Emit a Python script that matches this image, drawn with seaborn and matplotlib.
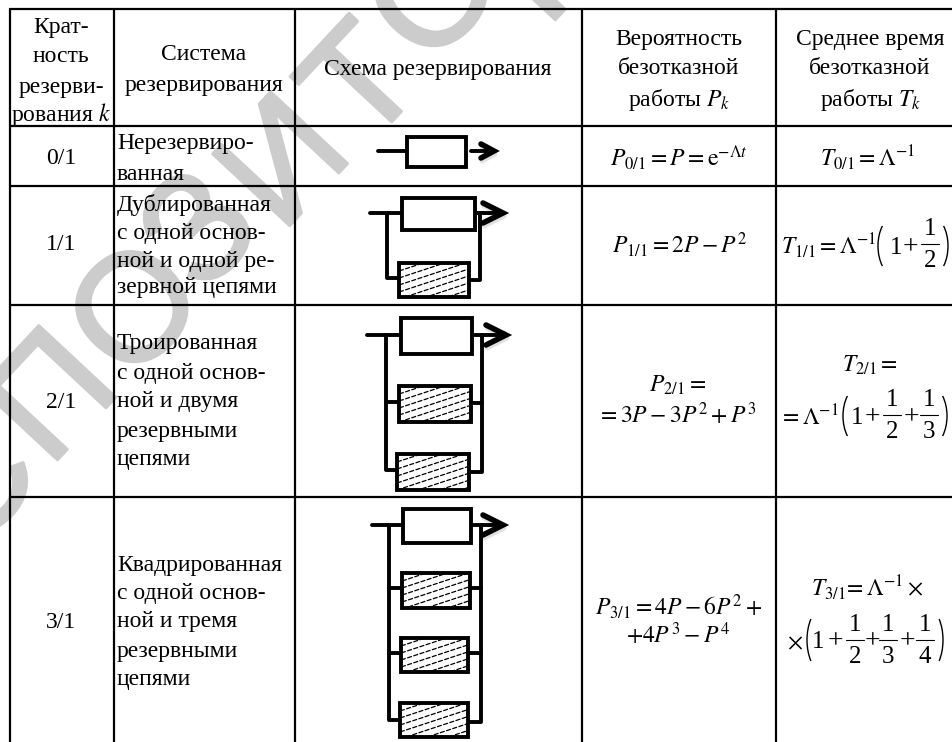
import matplotlib
matplotlib.use('Agg')
import matplotlib.patheffects as pe
import matplotlib.pyplot as plt
import pandas as pd
import seaborn as sns
from matplotlib.patches import Arc, Rectangle

sns.set_theme(style='white')
plt.rcParams['font.family'] = ['Liberation Serif', 'DejaVu Serif']
plt.rcParams['mathtext.fontset'] = 'stix'

# Table content
headers = [
    (61, ['Крат-', 'ность', 'резерви-', r'рования $k$'], [27, 57, 87, 115]),
    (204, ['Система', 'резервирования'], [55, 85]),
    (438, ['Схема резервирования'], [69]),
    (679, ['Вероятность', 'безотказной', r'работы $P_k$'], [40, 69, 100]),
    (870, ['Среднее время', 'безотказной', r'работы $T_k$'], [40, 69, 100]),
]
multiplicity = ['0/1', '1/1', '2/1', '3/1']
multiplicity_y = [159, 245, 402, 622]
system_lines = [
    ['Нерезервиро-', 'ванная'],
    ['Дублированная', 'с одной основ-', 'ной и одной ре-', 'зервной цепями'],
    ['Троированная', 'с одной основ-', 'ной и двумя', 'резервными', 'цепями'],
    ['Квадрированная', 'с одной основ-', 'ной и тремя', 'резервными', 'цепями'],
]
system_y = [
    [144, 174],
    [205, 234, 262, 288],
    [344, 373, 402, 431, 459],
    [565, 593, 622, 651, 680],
]
formulas_p = [
    (679, 158, r'$P_{0/1}=P=\mathrm{e}^{-\Lambda t}$'),
    (680, 245, r'$P_{1/1}=2P-P^2$'),
    (678, 385, r'$P_{2/1}=$'),
    (677, 415, r'$=3P-3P^2+P^3$'),
    (679, 607, r'$P_{3/1}=4P-6P^2+$'),
    (678, 635, r'$+4P^3-P^4$'),
]
formulas_t = [
    (868, 158, r'$T_{0/1}=\Lambda^{-1}$'),
    (829, 246, r'$T_{1/1}=\Lambda^{-1}$'),
    (870, 365, r'$T_{2/1}=$'),
    (809, 418, r'$=\Lambda^{-1}$'),
    (867, 588, r'$T_{3/1}\!=\Lambda^{-1}\times$'),
    (795, 644, r'$\times$'),
]

# Bracketed sums in the T column: left bracket, right bracket, centre line, half height
bracket_left = [878, 843, 807]
bracket_right = [948, 947, 943]
bracket_y = [246, 416, 640]
bracket_half = [29, 29, 32]
# Terms inside the brackets
plain_terms = [(896, 248, '1'), (910, 248, '+'),
               (857, 418, '1'), (872, 418, '+'), (911, 418, '+'),
               (818, 642, '1'), (835, 642, '+'), (872, 642, '+'), (907, 642, '+')]
fraction_x = [930, 892, 929, 855, 888, 925]
fraction_y = [244, 415, 415, 640, 640, 640]
fraction_den = ['2', '2', '3', '2', '3', '4']

# Grid of the table
grid_x = [10, 114, 295, 582, 776]
grid_y = [9, 126, 186, 305, 497]

# Schemes: main block, reserve blocks, wires
main_blocks = [(407, 137, 59, 30), (402, 198, 73, 32), (401, 318, 71, 36), (403, 509, 68, 34)]
reserve_blocks = [(399, 263, 70, 34), (399, 386, 72, 36), (397, 454, 72, 36),
                  (402, 573, 68, 35), (401, 638, 67, 34), (400, 703, 68, 34)]
wires = [
    [(378, 151), (407, 151)],
    [(370, 213), (402, 213)], [(387, 213), (387, 278), (399, 278)], [(480, 213), (480, 280), (469, 280)],
    [(367, 335), (401, 335)], [(386, 335), (386, 470), (397, 470)], [(482, 335), (482, 472), (469, 472)],
    [(386, 402), (399, 402)], [(482, 403), (471, 403)],
    [(372, 525), (403, 525)], [(389, 525), (389, 720), (400, 720)], [(481, 525), (481, 722), (468, 722)],
    [(389, 588), (402, 588)], [(481, 588), (470, 588)],
    [(389, 653), (401, 653)], [(481, 653), (468, 653)],
    [(471, 525), (500, 525)], [(472, 335), (503, 335)], [(475, 213), (500, 213)], [(471, 151), (492, 151)],
]
arrow_tip_x = [494, 503, 506, 503]
arrow_y = [151, 213, 335, 525]
arrow_len = [13, 20, 20, 20]
arrow_half = [7, 10, 10, 10]

# Watermark letters, centre of each
watermark = ['С', 'П', 'О', 'З', 'И', 'Т', 'О', 'Р']
watermark_x = [-20, 58, 142, 206, 290, 368, 441, 553]
watermark_y = [490, 402, 316, 236, 168, 90, 0, -35]


def polylines(paths):
    rows = []
    for i, path in enumerate(paths):
        for x, y in path:
            rows.append({'x': x, 'y': y, 'path': i})
    return pd.DataFrame(rows)


def draw_paths(ax, paths, **kwargs):
    sns.lineplot(data=polylines(paths), x='x', y='y', units='path', estimator=None, sort=False,
                 ax=ax, legend=False, **kwargs)


fig = plt.figure(figsize=(9.52, 7.42), dpi=100)
ax = fig.add_axes([0, 0, 1, 1])
ax.set_xlim(0, 952)
ax.set_ylim(742, 0)

for letter, x, y in zip(watermark, watermark_x, watermark_y):
    ax.text(x, y, letter, family='Liberation Sans', fontsize=110, color='#cccccc', rotation=47,
            rotation_mode='anchor', ha='center', va='center', zorder=0,
            path_effects=[pe.withStroke(linewidth=2.2, foreground='#cccccc')])

# table lines
grid_paths = [[(x, grid_y[0]), (x, 742)] for x in grid_x] + [[(grid_x[0], y), (952, y)] for y in grid_y]
draw_paths(ax, grid_paths, color='black', linewidth=1.6, zorder=2)

# arrow heads, with the soft shadow they have in the scan
heads = [[(t - n, y - h), (t, y), (t - n, y + h)]
         for t, y, n, h in zip(arrow_tip_x, arrow_y, arrow_len, arrow_half)]
shadow = [[(a + 1, b + 3) for a, b in head] for head in heads]
draw_paths(ax, shadow, color='#aaaaaa', linewidth=3.6, alpha=0.35, zorder=3)
draw_paths(ax, wires, color='black', linewidth=2.8, zorder=3)
draw_paths(ax, heads, color='black', linewidth=4, solid_joinstyle='miter', zorder=5)

for x, y, w, h in main_blocks:
    ax.add_patch(Rectangle((x, y), w, h, fc='white', ec='black', lw=2.8, zorder=4))
for x, y, w, h in reserve_blocks:
    ax.add_patch(Rectangle((x, y), w, h, fc='white', ec='none', zorder=4))
    clip = Rectangle((x, y), w, h, transform=ax.transData)
    # broken slanted hatching
    for k in range(8):
        y0 = y + 8 + 7 * k
        line, = ax.plot([x, x + w], [y0, y0 - w * 0.33], color='black', lw=0.9, dashes=(4, 1.2), zorder=4.5)
        line.set_clip_path(clip)
    ax.add_patch(Rectangle((x, y), w, h, fc='none', ec='black', lw=2.8, zorder=4.6))

# text
fs = 17
for x, lines, ys in headers:
    for line, y in zip(lines, ys):
        ax.text(x, y, line, ha='center', va='center', fontsize=fs, color='black', zorder=6)
for label, y in zip(multiplicity, multiplicity_y):
    ax.text(61, y, label, ha='center', va='center', fontsize=fs, color='black', zorder=6)
for lines, ys in zip(system_lines, system_y):
    for line, y in zip(lines, ys):
        ax.text(117, y, line, ha='left', va='center', fontsize=fs, color='black', zorder=6)
for x, y, f in formulas_p + formulas_t:
    ax.text(x, y, f, ha='center', va='center', fontsize=fs, color='black', zorder=6)

# brackets and fractions of the T column
for xl, xr, y, half in zip(bracket_left, bracket_right, bracket_y, bracket_half):
    ax.add_patch(Arc((xl + 16, y), 32, half * 2, theta1=120, theta2=240, color='black', lw=1.0, zorder=6))
    ax.add_patch(Arc((xr - 16, y), 32, half * 2, theta1=-60, theta2=60, color='black', lw=1.0, zorder=6))
for x, y, s in plain_terms:
    ax.text(x, y, s, ha='center', va='center', fontsize=20 if s == '+' else 18, color='black', zorder=6)
for x, y, den in zip(fraction_x, fraction_y, fraction_den):
    ax.plot([x - 9, x + 9], [y, y], color='black', lw=0.8, zorder=6)
    ax.text(x, y - 15, '1', ha='center', va='center', fontsize=18, color='black', zorder=6)
    ax.text(x, y + 17, den, ha='center', va='center', fontsize=18, color='black', zorder=6)

ax.set_xlim(0, 952)
ax.set_ylim(742, 0)
ax.axis('off')
fig.savefig('out.png', dpi=100)
